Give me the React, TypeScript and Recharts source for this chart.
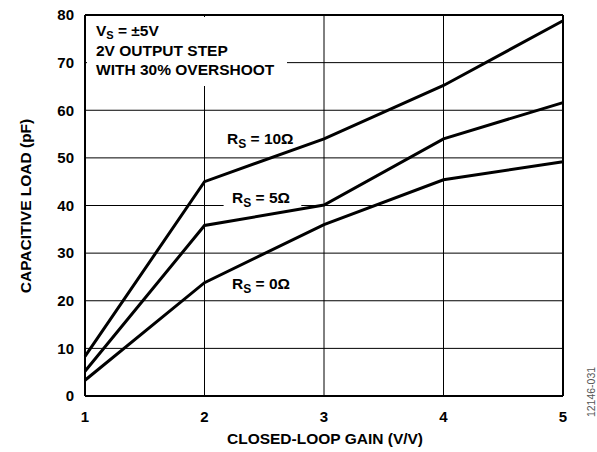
import React from 'react';
import { LineChart, Line, XAxis, YAxis, CartesianGrid, ReferenceLine, ReferenceArea } from 'recharts';

const gains = [1, 2, 3, 4, 5];
const rs10 = [8.3, 45, 54, 65.2, 78.8];
const rs5 = [5.2, 35.8, 40.1, 54, 61.6];
const rs0 = [3.3, 23.8, 36, 45.4, 49.2];
const xTicks = [1, 2, 3, 4, 5];
const yTicks = [0, 10, 20, 30, 40, 50, 60, 70, 80];

const data = gains.map((g, i) => ({ gain: g, rs10: rs10[i], rs5: rs5[i], rs0: rs0[i] }));

const font = 'Liberation Sans, Arial, sans-serif';
const tickStyle = { fontFamily: font, fontSize: 15, fontWeight: 700, fill: '#000' };

const Rs = ({ x, y, val }: { x: number; y: number; val: string }) => (
  <text x={x} y={y} fontFamily={font} fontSize={15.5} fontWeight={700} fill="#000">
    R<tspan fontSize={12} dy={4}>S</tspan>
    <tspan dy={-4}>{` = ${val}\u03A9`}</tspan>
  </text>
);

const App = () => {
  return (
    <div style={{ position: 'absolute', left: 0, top: 0, width: 597, height: 452, background: '#fff' }}>
      <LineChart width={597} height={452} data={data} margin={{ top: 15, right: 34, bottom: 26, left: 25 }}>
        <CartesianGrid stroke="#000" strokeWidth={1} />
        <XAxis
          dataKey="gain"
          type="number"
          domain={[1, 5]}
          ticks={xTicks}
          height={30}
          tickLine={false}
          tickMargin={9}
          axisLine={{ stroke: '#000', strokeWidth: 2 }}
          tick={tickStyle}
        />
        <YAxis
          type="number"
          domain={[0, 80]}
          ticks={yTicks}
          width={60}
          tickLine={false}
          tickMargin={5}
          axisLine={{ stroke: '#000', strokeWidth: 2 }}
          tick={tickStyle}
        />
        <ReferenceLine y={80} stroke="#000" strokeWidth={2} />
        <ReferenceLine x={5} stroke="#000" strokeWidth={2} />
        <ReferenceArea x1={2.16} x2={2.81} y1={39.8} y2={43.3} fill="#fff" fillOpacity={1} stroke="none" />
        <Line dataKey="rs10" stroke="#000" strokeWidth={3} dot={false} isAnimationActive={false} />
        <Line dataKey="rs5" stroke="#000" strokeWidth={3} dot={false} isAnimationActive={false} />
        <Line dataKey="rs0" stroke="#000" strokeWidth={3} dot={false} isAnimationActive={false} />
      </LineChart>
      <svg width={597} height={452} style={{ position: 'absolute', left: 0, top: 0, pointerEvents: 'none' }}>
        <rect x={87} y={17} width={200} height={69} fill="#fff" />
        <text x={96} y={36} fontFamily={font} fontSize={15.5} fontWeight={700} fill="#000">
          V<tspan fontSize={11} dy={3}>S</tspan>
          <tspan dy={-3}>{' = \u00B15V'}</tspan>
        </text>
        <text x={96} y={56} fontFamily={font} fontSize={15.5} fontWeight={700} fill="#000">2V OUTPUT STEP</text>
        <text x={96} y={74.5} fontFamily={font} fontSize={15.5} fontWeight={700} fill="#000">WITH 30% OVERSHOOT</text>
        <Rs x={227} y={144} val="10" />
        <Rs x={232} y={203} val="5" />
        <Rs x={232} y={289} val="0" />
        <text
          x={25}
          y={206}
          transform="rotate(-90 25 206)"
          textAnchor="middle"
          dominantBaseline="central"
          fontFamily={font}
          fontSize={15.5}
          fontWeight={700}
          fill="#000"
        >
          CAPACITIVE LOAD (pF)
        </text>
        <text x={325} y={444} textAnchor="middle" fontFamily={font} fontSize={15.5} fontWeight={700} fill="#000">
          CLOSED-LOOP GAIN (V/V)
        </text>
        <text
          x={591}
          y={392}
          transform="rotate(-90 591 392)"
          textAnchor="middle"
          dominantBaseline="central"
          fontFamily={font}
          fontSize={10.5}
          fill="#555"
        >
          12146-031
        </text>
      </svg>
    </div>
  );
};

export default App;
